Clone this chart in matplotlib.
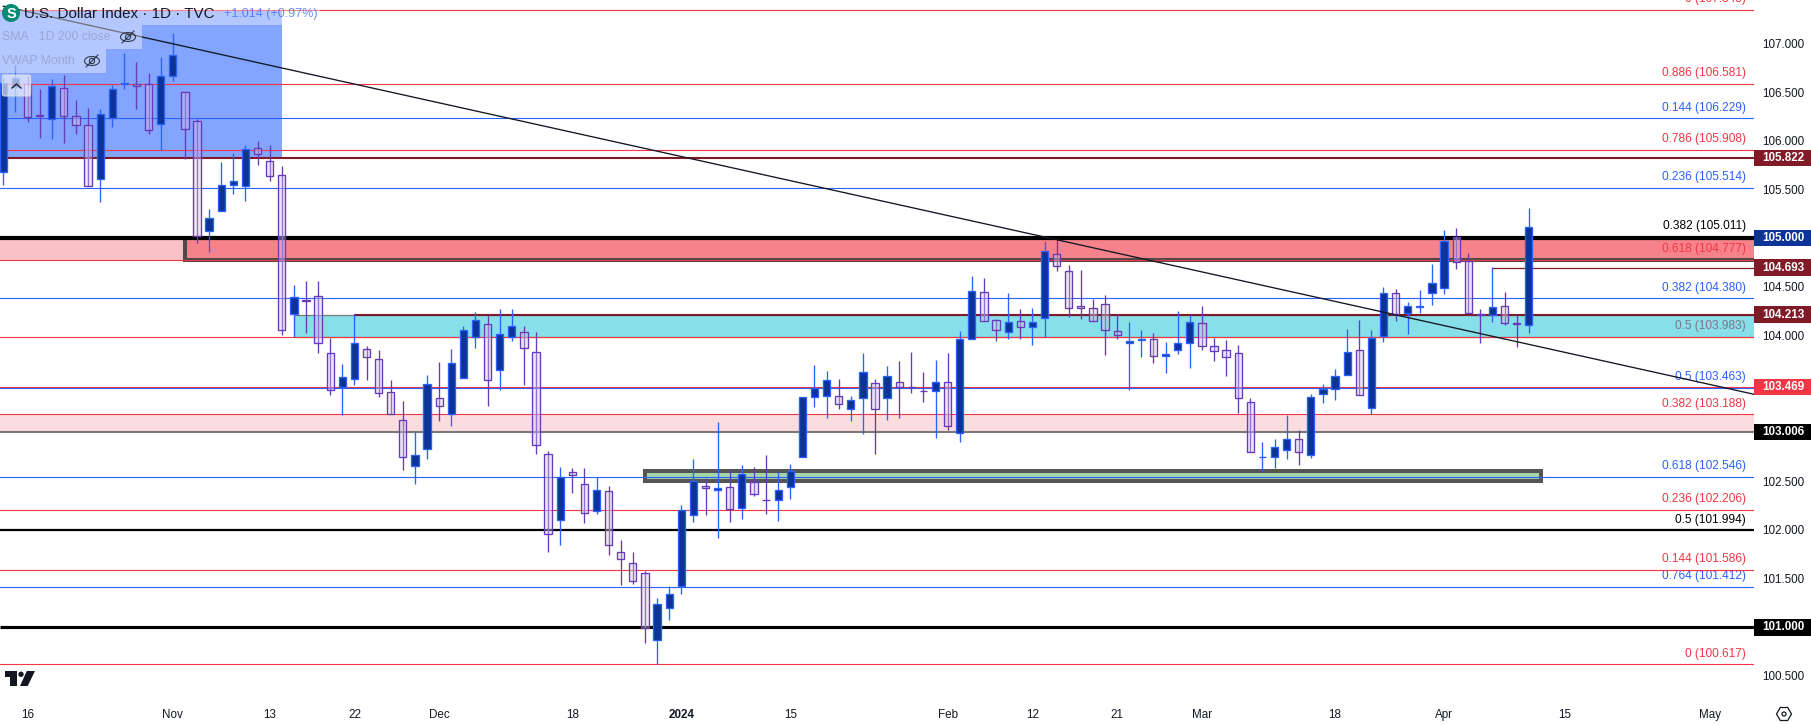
import matplotlib
matplotlib.use("Agg")
import matplotlib.pyplot as plt
from matplotlib.patches import Rectangle, Circle, Polygon, Ellipse, FancyBboxPatch, RegularPolygon
from matplotlib.lines import Line2D
from matplotlib.transforms import Affine2D, blended_transform_factory
from matplotlib.colors import to_rgba

opens = [105.675,106.548,106.582,106.26,106.22,106.54,106.25,106.16,105.61,106.235,106.58,106.585,106.58,106.17,106.67,106.50,106.2,105.07,105.275,105.54,105.53,105.93,105.795,105.645,104.215,104.36,104.40,
         103.815,103.47,103.55,103.856,103.754,103.415,103.127,102.654,102.829,103.353,103.195,103.558,103.986,104.113,103.641,103.98,104.031,103.826,102.777,102.099,102.593,102.469,102.192,102.397,101.77,101.658,
         101.555,100.866,101.195,101.421,102.151,102.456,102.415,102.438,102.222,102.49,102.308,102.305,102.438,102.746,103.362,103.373,103.373,103.239,103.352,103.506,103.352,103.517,103.473,103.432,103.424,103.517,102.992,103.958,104.441,104.154,104.03,104.143,104.082,104.174,104.832,104.657,104.297,104.277,104.318,104.041,103.917,103.95,
         103.959,103.784,103.846,103.918,104.123,103.887,103.846,103.815,103.312,102.746,102.747,102.819,102.932,102.767,103.394,103.445,103.589,103.846,103.25,103.99,104.432,104.226,104.295,104.432,104.483,105.007,104.767,104.223,104.206,104.298,104.124,104.103]
highs = [106.65,106.78,106.67,106.53,106.63,106.675,106.42,106.335,106.325,106.57,106.9,106.81,106.70,106.86,107.11,106.50,106.22,105.295,105.78,105.87,105.96,106.0,105.955,105.74,104.52,104.56,104.56,
         103.976,103.71,104.216,103.887,103.85,103.54,103.326,103.01,103.593,103.726,103.86,104.096,104.24,104.209,104.271,104.271,104.096,104.034,102.812,102.647,102.637,102.637,102.548,102.452,101.894,101.774,
         101.582,101.301,101.424,102.257,102.726,102.531,103.106,102.623,102.668,102.647,102.77,102.596,102.678,102.80,103.695,103.63,103.547,103.373,103.815,103.547,103.684,103.732,103.825,103.619,103.743,103.815,104.04,104.606,104.585,104.164,104.431,104.267,104.277,104.965,104.976,104.719,104.667,104.376,104.41,104.222,104.133,104.055,
         104.021,103.928,104.25,104.213,104.302,103.973,103.952,103.897,103.353,102.901,102.932,103.182,103.024,103.394,103.497,103.651,104.065,104.158,104.052,104.497,104.473,104.339,104.463,104.733,105.079,105.1,104.843,104.267,104.699,104.445,104.213,105.309]
lows = [105.54,106.30,106.195,106.03,106.02,105.98,106.07,105.53,105.365,106.14,106.53,106.325,106.07,105.905,106.615,105.815,104.95,104.86,105.275,105.455,105.38,105.755,105.59,104.0,103.98,104.02,103.82,
        103.39,103.185,103.49,103.545,103.37,103.195,102.62,102.476,102.73,103.123,103.072,103.558,103.873,103.278,103.442,103.945,103.493,102.784,101.777,101.849,102.384,102.075,102.168,101.747,101.438,101.449,
        100.842,100.62,101.078,101.346,102.086,102.157,101.921,102.085,102.116,102.349,102.168,102.096,102.322,102.746,103.267,103.153,103.246,103.123,102.989,102.784,103.133,103.153,103.41,103.318,102.948,103.03,102.907,103.958,104.143,103.945,103.965,103.965,103.904,103.979,104.664,104.191,104.171,104.143,103.797,103.958,103.441,103.78,
        103.719,103.617,103.812,103.668,103.849,103.74,103.586,103.206,102.798,102.616,102.64,102.733,102.671,102.743,103.308,103.339,103.589,103.384,103.188,103.932,104.151,104.014,104.226,104.315,104.428,104.685,104.226,103.925,104.137,104.106,103.884,104.024]
closes = [106.596,106.64,106.24,106.255,106.565,106.25,106.16,105.53,106.27,106.53,106.595,106.56,106.115,106.66,106.885,106.125,105.02,105.21,105.54,105.59,105.91,105.86,105.635,104.05,104.39,104.355,103.92,
          103.435,103.57,103.92,103.774,103.404,103.195,102.747,102.767,103.497,103.27,103.712,104.052,104.154,103.538,104.01,104.093,103.867,102.87,101.955,102.548,102.562,102.171,102.408,101.842,101.699,101.473,
          100.989,101.236,101.339,102.205,102.5,102.428,102.43,102.212,102.572,102.366,102.304,102.407,102.603,103.362,103.455,103.537,103.29,103.332,103.619,103.239,103.578,103.472,103.468,103.427,103.517,103.064,103.958,104.452,104.143,104.051,104.133,104.082,104.133,104.863,104.708,104.277,104.277,104.143,104.051,103.999,103.945,103.958,
          103.784,103.805,103.918,104.141,103.887,103.836,103.774,103.353,102.798,102.75,102.849,102.932,102.798,103.363,103.445,103.579,103.826,103.384,103.969,104.432,104.223,104.298,104.3,104.534,104.966,104.75,104.226,104.206,104.288,104.123,104.121,105.117]

RED, BLUE, BLACK, MAROON, GRAY = "#f23645", "#2962ff", "#000000", "#7f1a26", "#787878"
NAVY = "#0d3398"

# level value, text, colour, line width (px)
fib_values = [107.348,106.581,106.229,105.908,105.514,105.011,104.777,104.380,103.983,103.469,103.463,103.188,102.546,102.206,101.994,101.586,101.412,100.617]
fib_ratios = ["0","0.886","0.144","0.786","0.236","0.382","0.618","0.382","0.5",None,"0.5","0.382","0.618","0.236","0.5","0.144","0.764","0"]
fib_colors = [RED,RED,BLUE,RED,BLUE,BLACK,RED,BLUE,RED,RED,BLUE,RED,BLUE,RED,BLACK,RED,BLUE,RED]
fib_widths = [1,1,1,1,1,1,1,1,1,1,1,1,1,1,2,1,1,1]

flag_values = [105.822,105.000,104.693,104.213,103.469,103.006,101.000]
flag_colors = [MAROON,NAVY,MAROON,MAROON,RED,BLACK,BLACK]

level_values = [105.822,105.000,104.693,104.213,103.006,101.000]
level_colors = [MAROON,BLACK,MAROON,MAROON,GRAY,BLACK]
level_widths = [2,4,1.2,2,2,3]
level_starts = [None,None,123,29,None,None]

ytick_values = [100.5,101.5,102.0,102.5,104.0,104.5,105.5,106.0,106.5,107.0]
xtick_positions = [2,14,22,29,36,47,56,65,78,85,92,99,110,119,129,141]
xtick_labels = ["16","Nov","13","22","Dec","18","2024","15","Feb","12","21","Mar","18","Apr","15","May"]

trend_x = [0, 144.6]
trend_y = [107.382, 103.394]

W, H = 1811, 725
plt.rcParams["font.family"] = ["Liberation Sans", "DejaVu Sans"]
fig = plt.figure(figsize=(W/100, H/100), dpi=100, facecolor="white")
AX_R, AX_B = 1754, 700
ax = fig.add_axes([0, 1-AX_B/H, AX_R/W, AX_B/H])
ax.set_xlim((0-3.3)/12.107, (AX_R-3.3)/12.107)
ax.set_ylim(107-(AX_B-43.4)/97.3, 107+43.4/97.3)
for s in ax.spines.values():
    s.set_visible(False)
ax.yaxis.tick_right()
ax.set_yticks(ytick_values, [f"{v:.3f}" for v in ytick_values])
ax.set_xticks(xtick_positions, xtick_labels)
ax.tick_params(axis="y", length=0, pad=6.2, labelsize=8.4, labelcolor="#131722")
ax.tick_params(axis="x", length=0, pad=6.5, labelsize=8.4, labelcolor="#131722")
for lab, txt_ in zip(ax.get_xticklabels(), xtick_labels):
    if txt_ == "2024":
        lab.set_fontweight("bold")

xmax = ax.get_xlim()[1]
xmin = ax.get_xlim()[0]
over = 5  # zones run on past the right edge, so no closing border shows
# zones
ax.add_patch(Rectangle((xmin, 105.822), 23-xmin, 107.348-105.822, fc=BLUE, alpha=.58, lw=0, zorder=1))
ax.add_patch(Rectangle((xmin, 104.777), xmax-xmin, .223, fc=RED, alpha=.3, lw=0, zorder=1))
ax.add_patch(Rectangle((15, 104.777), xmax+over-15, .223, fc=to_rgba(RED, .45), ec="#4f4a4a", lw=2.9, zorder=1.1))
ax.add_patch(Rectangle((24, 103.983), xmax+over-24, .23, fc=to_rgba("#00bcd4", .47), ec=GRAY, lw=.9, zorder=1.1))
ax.add_patch(Rectangle((xmin, 103.006), xmax-xmin, .182, fc=RED, alpha=.17, lw=0, zorder=1))
ax.add_patch(Rectangle((53, 102.5), 74, .106, fc="#a5d6a7", ec="#555555", lw=2.9, zorder=1.1))

# levels
tb = blended_transform_factory(ax.transAxes, ax.transData)
for v, r, c, w in zip(fib_values, fib_ratios, fib_colors, fib_widths):
    ax.axhline(v, color=c, lw=w*.8, zorder=1.5)
    if r is not None:
        ax.annotate(f"{r} ({v:.3f})", xy=(1, v), xycoords=tb, xytext=(-6, 7.7), textcoords="offset points",
                    ha="right", va="center", color=c, fontsize=8.6, zorder=.5, annotation_clip=False)
for v, c, w, st in zip(level_values, level_colors, level_widths, level_starts):
    ax.plot([xmin if st is None else st, xmax], [v, v], color=c, lw=w*.75, solid_capstyle="butt", zorder=1.6)

# candles
for i, (o, h, l, c_) in enumerate(zip(opens, highs, lows, closes)):
    up = c_ >= o
    edge = BLUE if up else "#673ab7"
    face = NAVY if up else to_rgba("#d1c4e9", .42)
    ax.vlines(i, l, h, color=edge, lw=.95, zorder=3)
    ax.bar(i, max(abs(c_-o), .004), bottom=min(o, c_), width=.6, fc=face, ec=edge, lw=.95, zorder=4)
ax.plot(trend_x, trend_y, color="#131722", lw=.95, zorder=5)

# price flags
for v, c in zip(flag_values, flag_colors):
    ax.add_patch(Rectangle((1, v-.087), 57/AX_R, .174, transform=tb, fc=c, ec="none", clip_on=False, zorder=6))
    ax.annotate(f"{v:.3f}", xy=(1, v), xycoords=tb, xytext=(21.2, 0), textcoords="offset points",
                ha="center", va="center", color="white", fontsize=8.4, fontweight="bold", zorder=7, annotation_clip=False)

# chart chrome, in image pixels (y downwards)
px = Affine2D().scale(1/W, -1/H).translate(0, 1) + fig.transFigure
def add(a):
    a.set_transform(px)
    a.set_zorder(10)
    fig.add_artist(a)
    return a
for x0, y0, x1, y1 in [(0, 10, 320, 25), (0, 25, 142, 49), (0, 49, 106, 73)]:
    add(Rectangle((x0, y0), x1-x0, y1-y0, fc="white", alpha=.4, lw=0))
add(Circle((11, 13), 9, fc="#088a76", lw=0))
def txt(x, y, s, **k):
    t = fig.text(x/W, 1-y/H, s, va="center", zorder=11, **k)
    return t
txt(11, 13.5, "S", color="white", fontsize=10.5, fontweight="bold", ha="center")
txt(24, 13.5, "U.S. Dollar Index · 1D · TVC", color="#131722", fontsize=10.9, ha="left")
txt(224, 13.5, "+1.014 (+0.97%)", color=BLUE, alpha=.7, fontsize=9.0, ha="left")
txt(2, 37.5, "SMA · 1D 200 close", color="#131722", alpha=.18, fontsize=8.8, ha="left")
txt(2, 61.5, "VWAP Month", color="#131722", alpha=.18, fontsize=8.8, ha="left")
for ex, ey in [(128, 37), (92, 61)]:
    add(Ellipse((ex, ey), 15, 9, fc="none", ec="#131722", lw=.8, alpha=.8))
    add(Circle((ex, ey), 2.6, fc="none", ec="#131722", lw=.8, alpha=.8))
    add(Line2D([ex-6, ex+6], [ey+6, ey-6], color="#131722", lw=.8, alpha=.8))
add(FancyBboxPatch((3.3, 76), 26.4, 19, boxstyle="round,pad=1,rounding_size=2", fc=(1, 1, 1, .6), ec="#dddddd", lw=.7))
add(Line2D([12, 16.5, 21], [88, 84, 88], color="#222222", lw=1))
# TradingView logo
add(Polygon([(4.5, 671), (17, 671), (17, 686), (10, 686), (10, 677), (4.5, 677)], fc="#131722", lw=0))
add(Circle((21, 674.3), 2.7, fc="#131722", lw=0))
add(Polygon([(26.8, 671), (35, 671), (27.7, 686), (20, 686)], fc="#131722", lw=0))
# settings icon
add(RegularPolygon((1784, 714), 6, radius=7.5, orientation=0.5236, fc="none", ec="#131722", lw=.9))
add(Circle((1784, 714), 2, fc="none", ec="#131722", lw=.9))

fig.savefig("out.png", dpi=100)
